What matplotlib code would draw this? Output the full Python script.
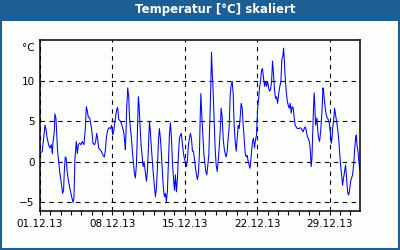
import numpy as np
import pandas as pd
import matplotlib
matplotlib.use("Agg")
import matplotlib.pyplot as plt
import matplotlib.dates as mdates
from matplotlib.patches import Rectangle

# days since 01.12.2013 00:00 and temperature in degC
days = [
    0.00, 0.22, 0.35, 0.48, 0.57, 0.67, 0.83, 0.96, 1.09, 1.19, 1.25, 1.38, 1.44, 1.54, 1.61,
    1.70, 1.80, 1.90, 1.99, 2.09, 2.19, 2.28, 2.35, 2.44, 2.54, 2.61, 2.73, 2.86, 2.96, 3.06,
    3.19, 3.28, 3.38, 3.51, 3.61, 3.70, 3.83, 3.96, 4.09, 4.25, 4.38, 4.48, 4.57, 4.67, 4.80,
    4.93, 5.02, 5.12, 5.28, 5.38, 5.48, 5.57, 5.67, 5.80, 5.93, 6.09, 6.22, 6.31, 6.41, 6.54,
    6.67, 6.83, 6.93, 7.03, 7.12, 7.25, 7.41, 7.51, 7.61, 7.71, 7.84, 7.96, 8.09, 8.19, 8.25,
    8.32, 8.38, 8.48, 8.58, 8.64, 8.74, 8.84, 8.93, 9.03, 9.13, 9.22, 9.32, 9.42, 9.51, 9.58,
    9.67, 9.77, 9.87, 9.96, 10.06, 10.16, 10.29, 10.38, 10.48, 10.58, 10.67, 10.77, 10.87, 10.96,
    11.06, 11.16, 11.25, 11.35, 11.45, 11.54, 11.64, 11.74, 11.83, 11.93, 12.03, 12.13, 12.22,
    12.32, 12.42, 12.51, 12.61, 12.71, 12.80, 12.90, 13.00, 13.09, 13.19, 13.29, 13.38, 13.48,
    13.58, 13.67, 13.77, 13.87, 13.96, 14.06, 14.16, 14.25, 14.35, 14.45, 14.54, 14.64, 14.74,
    14.83, 14.93, 15.03, 15.13, 15.22, 15.32, 15.42, 15.48, 15.55, 15.64, 15.74, 15.84, 15.93,
    16.03, 16.13, 16.22, 16.32, 16.42, 16.51, 16.58, 16.64, 16.74, 16.84, 16.93, 17.03, 17.13,
    17.22, 17.32, 17.42, 17.51, 17.61, 17.71, 17.80, 17.90, 18.00, 18.10, 18.19, 18.29, 18.39,
    18.48, 18.58, 18.68, 18.77, 18.87, 18.97, 19.06, 19.16, 19.26, 19.35, 19.45, 19.55, 19.64,
    19.74, 19.84, 19.93, 20.03, 20.13, 20.22, 20.29, 20.35, 20.45, 20.55, 20.64, 20.74, 20.84,
    20.93, 21.03, 21.13, 21.22, 21.32, 21.42, 21.51, 21.61, 21.71, 21.80, 21.90, 22.00, 22.10,
    22.19, 22.29, 22.39, 22.48, 22.58, 22.68, 22.77, 22.87, 22.97, 23.06, 23.16, 23.29, 23.38,
    23.48, 23.55, 23.61, 23.67, 23.74, 23.80, 23.90, 23.99, 24.09, 24.19, 24.29, 24.38, 24.48,
    24.58, 24.67, 24.77, 24.87, 24.96, 25.06, 25.16, 25.25, 25.35, 25.45, 25.54, 25.64, 25.74,
    25.84, 25.93, 26.03, 26.09, 26.16, 26.22, 26.29, 26.35, 26.45, 26.51, 26.58, 26.64, 26.71,
    26.77, 26.84, 26.93, 27.03, 27.13, 27.22, 27.29, 27.35, 27.42, 27.48, 27.58, 27.67, 27.77,
    27.87, 27.96, 28.03, 28.09, 28.16, 28.22, 28.29, 28.38, 28.48, 28.58, 28.67, 28.77, 28.87,
    28.96, 29.06, 29.16, 29.25, 29.35, 29.45, 29.54, 29.64, 29.74, 29.83, 29.93, 30.03, 30.12,
    30.22, 30.32, 30.41, 30.51, 30.58, 30.64, 30.74, 30.83, 30.90, 30.94,
]
temps = [
    1.0, 1.3, 2.9, 4.5, 4.1, 3.1, 2.1, 1.7, 2.1, 1.0, 2.3, 3.7, 5.9, 5.4, 3.7,
    1.3, 0.0, -1.2, -2.0, -2.9, -3.9, -3.5, -1.2, 0.6, 0.4, -1.0, -2.2, -3.1, -3.7, -4.3,
    -5.0, -4.5, 0.4, 2.5, 1.0, 2.1, 2.3, 2.1, 2.5, 2.1, 4.1, 6.8, 6.3, 5.5, 5.4,
    4.5, 3.7, 2.3, 2.1, 2.5, 3.5, 2.9, 1.7, 1.5, 1.3, 0.8, 0.6, 1.3, 2.9, 3.9,
    4.2, 4.1, 4.5, 3.3, 3.7, 5.0, 6.4, 6.7, 5.2, 5.1, 4.8, 4.3, 3.7, 2.5, 1.5,
    3.7, 6.6, 9.1, 8.0, 5.8, 4.1, 2.9, 1.3, 0.0, -1.4, -2.0, -0.4, 3.7, 8.0, 7.0,
    4.5, 2.1, 0.8, -0.6, 0.0, -1.0, -2.4, -1.2, 1.7, 5.0, 3.7, 1.7, 0.0, -1.6,
    -2.9, -4.3, -3.3, -0.8, 2.5, 4.1, 2.9, 1.0, -1.2, -3.3, -4.3, -3.9, -4.9,
    -3.5, 0.0, 3.3, 4.8, 2.9, 0.0, -2.0, -3.5, -1.6, -3.7, -2.0, 0.8, 2.9,
    3.3, 3.5, 2.1, 1.0, 0.4, 0.0, -0.6, 0.2, 2.1, 2.9, 3.5, 2.9, 1.3,
    1.3, 0.4, -0.8, -1.6, -2.2, -1.4, 1.3, 5.0, 8.4, 5.8, 3.3, 1.0, 0.0,
    -1.2, -1.6, -0.4, 0.8, 5.0, 9.1, 13.5, 11.3, 8.7, 5.0, 1.7, -0.4, -1.2,
    0.0, 1.7, 3.7, 6.6, 5.6, 2.9, 1.7, 1.0, 0.6, 1.3, 2.9, 4.3, 8.3,
    9.5, 9.9, 8.3, 4.5, 2.5, 1.3, 2.9, 4.5, 4.1, 5.4, 7.2, 6.6, 4.5,
    2.9, 1.0, 0.6, 0.8, 0.0, -0.4, -0.8, -0.4, 1.3, 2.5, 2.9, 1.7, 2.7,
    3.3, 6.4, 7.6, 9.1, 9.9, 11.3, 11.5, 10.3, 9.3, 9.9, 9.3, 9.9, 9.1,
    8.7, 8.9, 9.9, 12.4, 10.7, 8.7, 7.8, 8.0, 7.2, 8.2, 9.1, 9.9, 12.6,
    13.0, 14.0, 12.8, 11.1, 9.9, 8.7, 7.6, 7.0, 6.6, 7.2, 6.0, 6.8, 6.6,
    5.4, 4.5, 4.3, 4.1, 4.1, 4.1, 4.2, 4.1, 3.9, 3.7, 4.1, 4.3, 3.9,
    3.1, 2.9, 2.5, 2.1, 0.8, -0.6, 0.4, 2.9, 7.0, 8.5, 6.6, 4.5, 5.0,
    5.4, 4.1, 2.9, 2.5, 3.7, 5.4, 7.0, 9.1, 8.7, 7.8, 6.6, 5.8, 5.4,
    5.2, 4.8, 4.1, 3.3, 2.3, 2.7, 4.1, 5.0, 6.6, 5.8, 5.0, 4.1, 2.9,
    1.3, -0.4, -1.6, -2.9, -2.0, -1.2, -0.4, -2.0, -3.7, -4.1, -3.5, -2.4, -2.0,
    -1.6, -0.4, 1.3, 2.9, 3.3, 2.1, 1.3, 0.0, -0.8, -1.0,
]

title = "Temperatur [°C] skaliert"
unit = "°C"
start = "2013-12-01"
end = "2013-12-31 22:30"

bar_color = "#1d5e94"
bg = "#fcfefc"

times = pd.Timestamp(start) + pd.to_timedelta(days, unit="D")

fig = plt.figure(figsize=(4, 2.5), dpi=100)
fig.patch.set_facecolor(bg)

# title bar and frame
fig.patches.append(Rectangle((0, 0.916), 1, 0.084, transform=fig.transFigure,
                             facecolor=bar_color, edgecolor="none", zorder=0))
fig.patches.append(Rectangle((0.0025, 0.004), 0.995, 0.992, transform=fig.transFigure,
                             facecolor="none", edgecolor=bar_color, linewidth=1.5, zorder=1))
fig.text(0.537, 0.96, title, color="white", fontsize=8.5, fontweight="bold",
         ha="center", va="center")

ax = fig.add_axes([0.1, 0.158, 0.8, 0.682])
ax.set_facecolor(bg)
ax.plot(times, temps, color="#0000ff", linewidth=0.75)

ax.set_xlim(pd.Timestamp(start), pd.Timestamp(end))
ax.set_ylim(-6, 15)
ax.set_yticks([-5, 0, 5, 10])

ax.xaxis.set_major_locator(mdates.DayLocator(bymonthday=[1, 8, 15, 22, 29]))
ax.xaxis.set_major_formatter(mdates.DateFormatter("%d.%m.%y"))
ax.xaxis.set_minor_locator(mdates.DayLocator())

ax.tick_params(axis="x", which="both", direction="out", length=3, width=0.8,
               labelsize=7.5, pad=3)
ax.tick_params(axis="y", length=0, labelsize=7.5, pad=4)

ax.grid(True, which="major", color="black", linestyle=(0, (4, 4)), linewidth=0.8)

for s in ax.spines.values():
    s.set_linewidth(1.1)
    s.set_color("black")

ax.annotate(unit, xy=(0, 1), xycoords="axes fraction", xytext=(-4, -6),
            textcoords="offset points", ha="right", va="center", fontsize=7.5)

fig.savefig("out.png", dpi=100, facecolor=fig.get_facecolor())
